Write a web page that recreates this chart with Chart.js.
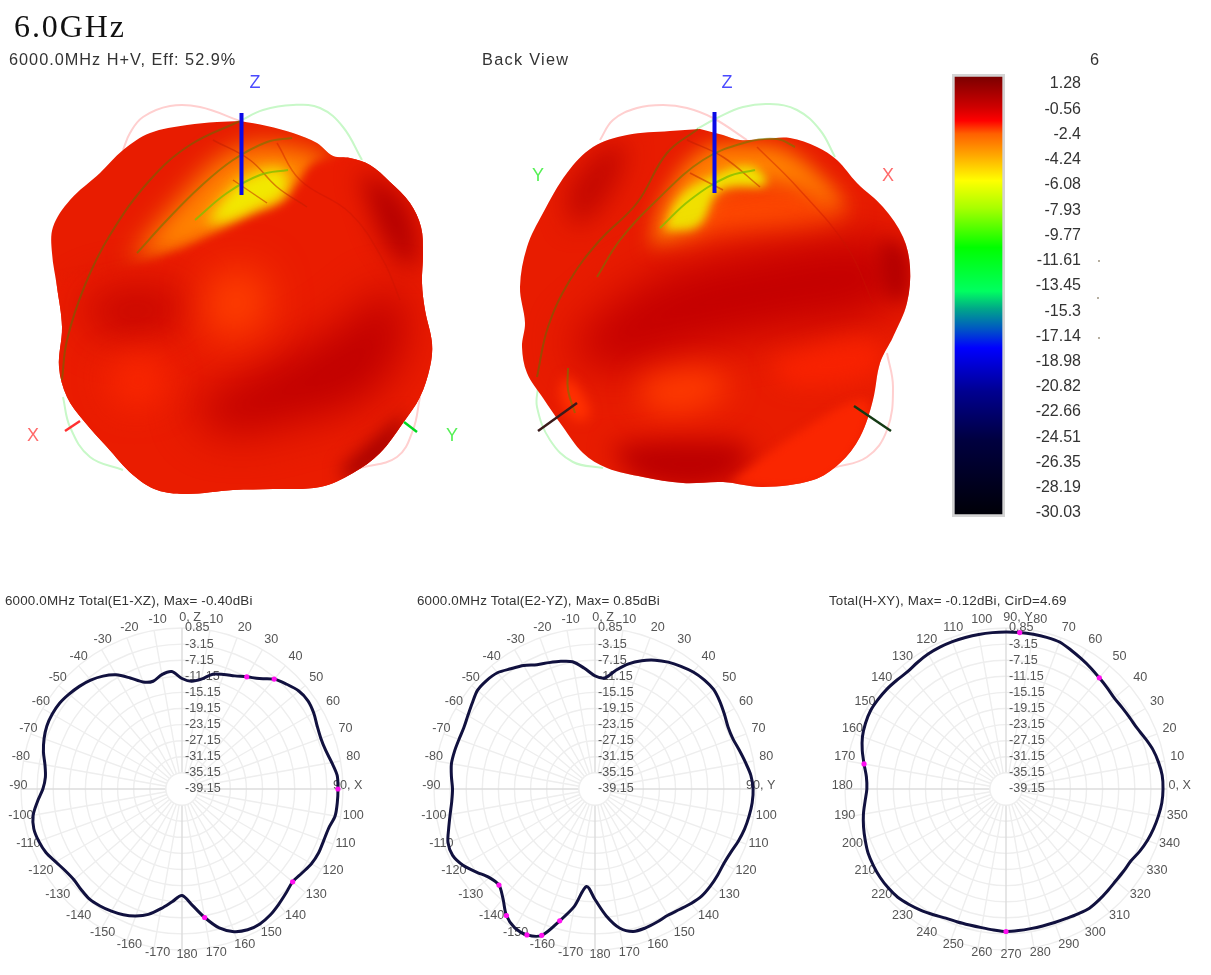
<!DOCTYPE html>
<html><head><meta charset="utf-8">
<script src="https://cdn.jsdelivr.net/npm/chart.js@4"></script>
<style>
html,body{margin:0;padding:0;background:#fff;width:1211px;height:975px;overflow:hidden}
canvas{position:absolute;filter:blur(.4px)}
.t{position:absolute;white-space:pre;font-family:"Liberation Sans",Arial,sans-serif;color:#333;line-height:1;filter:blur(.3px)}
</style></head><body>
<canvas id="view3d" width="1211" height="560" style="left:0;top:0"></canvas>
<canvas id="scale" width="170" height="470" style="left:940px;top:60px"></canvas>
<canvas id="p1" width="400" height="390" style="left:-18px;top:585px"></canvas>
<canvas id="p2" width="400" height="390" style="left:395px;top:585px"></canvas>
<canvas id="p3" width="400" height="390" style="left:806px;top:585px"></canvas>
<div class="t" style="left:14px;top:8px;font:32px 'Liberation Serif',serif;letter-spacing:1.9px;color:#111">6.0GHz</div>
<div class="t" style="left:9px;top:51px;font-size:16.3px;letter-spacing:1px">6000.0MHz H+V, Eff: 52.9%</div>
<div class="t" style="left:482px;top:51px;font-size:16.3px;letter-spacing:1.3px">Back View</div>
<div class="t" style="left:1090px;top:51px;font-size:16.3px">6</div>
<div class="t" style="left:5px;top:594px;font-size:13.4px;letter-spacing:.17px">6000.0MHz Total(E1-XZ), Max= -0.40dBi</div>
<div class="t" style="left:417px;top:594px;font-size:13.4px;letter-spacing:.17px">6000.0MHz Total(E2-YZ), Max= 0.85dBi</div>
<div class="t" style="left:829px;top:594px;font-size:13.4px;letter-spacing:.17px">Total(H-XY), Max= -0.12dBi, CirD=4.69</div>
<script>
// ---------- polar data (dBi, every 5 degrees clockwise from the top of the plot)
const radialLevels=[-39.15,-35.15,-31.15,-27.15,-23.15,-19.15,-15.15,-11.15,-7.15,-3.15,0.85];
const labelsXZ=["0, Z","10","20","30","40","50","60","70","80","90, X","100","110","120","130","140","150","160","170","180","-170","-160","-150","-140","-130","-120","-110","-100","-90","-80","-70","-60","-50","-40","-30","-20","-10"];
const labelsYZ=["0, Z","10","20","30","40","50","60","70","80","90, Y","100","110","120","130","140","150","160","170","180","-170","-160","-150","-140","-130","-120","-110","-100","-90","-80","-70","-60","-50","-40","-30","-20","-10"];
const labelsXY=["90, Y","80","70","60","50","40","30","20","10","0, X","350","340","330","320","310","300","290","280","270","260","250","240","230","220","210","200","190","180","170","160","150","140","130","120","110","100"];
const gainXZ=[-11.69,-12.27,-11.44,-9.63,-8.88,-8.14,-6.98,-5.66,-3.51,-2.35,-1.27,-0.94,-1.36,-2.10,-2.43,-2.18,-1.36,-0.45,-0.40,-0.42,-0.53,-1.44,-1.69,-1.69,-2.02,-2.76,-3.26,-2.60,-1.77,-0.94,-0.45,-0.55,-1.44,-3.42,-6.73,-10.20,-12.69,-11.03,-8.96,-6.90,-5.57,-4.66,-4.09,-3.67,-3.42,-3.75,-4.09,-3.75,-2.93,-1.85,-1.27,-1.03,-1.60,-3.09,-4.58,-5.08,-4.58,-3.51,-2.68,-2.10,-1.93,-2.02,-2.51,-3.09,-3.84,-4.91,-6.40,-8.72,-10.87,-11.44,-10.29,-9.87];
const gainYZ=[-11.03,-11.45,-9.21,-6.98,-5.24,-3.84,-2.76,-1.93,-1.19,-0.78,-0.69,-1.27,-2.02,-2.68,-2.68,-2.02,-1.19,-0.28,0.13,0.05,-0.28,-0.69,-1.27,-1.93,-2.18,-1.93,-1.69,-1.60,-2.02,-2.60,-2.93,-2.68,-2.43,-2.51,-4.09,-7.56,-11.69,-14.84,-9.54,-5.24,-0.45,0.85,0.71,-0.78,-3.59,-5.41,-4.91,-3.18,-1.27,-0.12,-0.28,-1.52,-2.60,-3.42,-3.75,-3.34,-2.93,-3.01,-3.18,-3.18,-2.68,-1.93,-1.03,-1.03,-1.44,-2.68,-3.75,-5.08,-5.74,-6.32,-7.06,-9.05];
const gainXY=[-0.15,-0.13,-0.12,-0.14,-0.28,-1.03,-1.77,-2.43,-3.09,-3.59,-4.00,-3.92,-3.67,-3.26,-2.35,-1.36,-0.69,-0.20,-0.14,-0.28,-0.69,-1.19,-1.77,-2.51,-3.34,-3.51,-3.59,-3.42,-3.18,-3.01,-3.34,-3.67,-3.84,-3.92,-3.92,-3.84,-3.75,-4.00,-4.17,-4.17,-4.00,-3.75,-3.09,-2.35,-1.69,-1.11,-0.94,-0.94,-1.11,-1.36,-1.93,-2.51,-3.18,-4.00,-4.58,-4.33,-3.34,-2.18,-1.19,-0.61,-0.28,-0.36,-0.53,-0.86,-1.11,-0.78,-0.45,-0.28,-0.20,-0.18,-0.15,-0.15];
const markersXZ=[6,8,18,26,34];
const markersYZ=[45,43,41,40,39];
const markersXY=[1,8,36,56];
// ---------- colour scale
const scaleTicks=[1.28,-0.56,-2.4,-4.24,-6.08,-7.93,-9.77,-11.61,-13.45,-15.3,-17.14,-18.98,-20.82,-22.66,-24.51,-26.35,-28.19,-30.03];
const scaleRange=[-30.32,2.01];
// ---------- 3D views: outlines and shading regions, in view units
const frontOutline=[[240,121],[267,126],[293,133],[317,143],[333,156],[350,158],[370,165],[390,182],[410,203],[421,227],[423,253],[422,283],[425,310],[432,343],[430,367],[420,397],[403,423],[380,453],[353,473],[320,487],[273,489],[233,490],[187,494],[157,490],[133,475],[107,447],[83,420],[67,397],[59,367],[62,327],[57,287],[52,253],[53,227],[70,200],[100,173],[123,150],[150,133],[187,125],[217,122],[240,121]];
const backOutline=[[700,129],[723,135],[740,140],[763,139],[790,138],[817,147],[837,160],[857,183],[883,207],[903,237],[910,267],[907,303],[893,337],[880,363],[873,400],[860,437],[840,463],[813,480],[763,487],[723,482],[683,483],[643,477],[607,468],[583,453],[563,427],[543,398],[527,373],[522,347],[525,323],[520,287],[527,247],[543,213],[567,173],[593,147],[627,135],[670,131],[700,129]];
const frontOrange=[[130,262],[175,205],[235,150],[300,148],[330,165],[295,205],[250,225],[195,250]];
const frontYellow=[[205,224],[225,196],[250,174],[285,170],[285,195],[260,209],[230,222]];
const frontLobe=[[338,156],[312,164],[298,184],[284,203],[252,217],[215,234],[175,252],[130,268],[40,300],[40,510],[445,510],[445,150]];
const frontDarkLobe=[[358,170],[400,195],[418,240],[412,268],[385,242],[368,200]];
const frontDarkMid=[[190,402],[250,375],[330,332],[395,290],[405,340],[370,395],[300,420],[220,432]];
const frontDarkLeft=[[80,300],[130,285],[188,297],[172,328],[105,335]];
const frontDarkEdge=[[340,470],[385,430],[405,415],[392,450],[350,480]];
const frontGlowMid=[[208,275],[258,272],[262,325],[210,332]];
const frontGlowLeft=[[105,365],[155,355],[165,395],[120,405]];
const backOrange=[[650,248],[665,197],[703,150],[747,144],[787,150],[830,187],[840,210],[787,186],[720,192],[697,227]];
const backYellow=[[664,230],[680,197],[710,177],[750,166],[766,184],[720,190],[698,226]];
const backOrangeLow=[[704,196],[790,188],[845,205],[835,226],[720,236],[672,246]];
const backDarkBand=[[570,340],[650,280],[760,250],[880,240],[908,270],[880,310],[780,330],[680,350],[600,370]];
const backDarkUpper=[[565,190],[600,150],[625,145],[610,195],[575,225]];
const backDarkRight=[[880,240],[905,250],[905,300],[885,290]];
const backGlowLow=[[640,380],[700,370],[730,385],[690,410],[645,405]];
const backGlowRight=[[770,360],[870,340],[880,370],[790,385]];
const backDarkLow=[[610,445],[680,440],[750,448],[720,485],[640,480]];
const backWedge=[[730,484],[800,432],[865,400],[860,440],[815,484]];
const backGlowPit=[[565,375],[580,390],[590,415],[575,420],[560,395]];
// ---------- 3D views: pattern curves and axes
const fPinkTop=[[123,150],[130,133],[143,117],[170,106],[200,107],[240,121]];
const fGreenTop=[[240,121],[263,110],[293,105],[320,108],[343,127],[362,160]];
const fGreenLow=[[63,397],[70,427],[90,457],[123,470]];
const fPinkLow=[[420,397],[413,430],[397,457],[360,468]];
const fOlive1=[[240,121],[190,145],[150,180],[110,235],[85,285],[67,340],[62,380]];
const fOlive2=[[292,138],[267,142],[233,160],[200,187],[167,220],[137,253]];
const fLime=[[288,170],[260,175],[227,193],[195,220]];
const fRed1=[[213,140],[250,160],[277,187],[307,207]];
const fRed2=[[233,180],[267,203]];
const fRed3=[[277,143],[300,180],[350,213],[383,260],[400,300]];
const fAxisZ=[[241.5,113],[241.5,195]];
const fAxisX=[[65,431],[80,421]];
const fAxisY=[[404,422],[417,432]];
const bPinkTop=[[600,140],[613,120],[637,108],[663,105],[687,108],[713,118],[747,140]];
const bGreenTop=[[697,129],[717,118],[743,107],[770,104],[797,110],[820,130],[835,157]];
const bGreenLow=[[538,387],[537,407],[550,440],[573,462],[603,468]];
const bPinkLow=[[887,353],[893,387],[887,430],[867,457],[833,468]];
const bOlive1=[[698,129],[667,153],[637,203],[600,240],[570,280],[548,327],[537,377]];
const bOlive2=[[795,147],[777,139],[747,142],[703,160],[657,200],[620,240],[597,277]];
const bOlive3=[[568,368],[568,390],[575,413]];
const bLime=[[755,170],[727,177],[690,200],[660,228]];
const bRed1=[[687,140],[723,157],[760,187]];
const bRed2=[[690,173],[723,190]];
const bRed3=[[757,147],[797,187],[847,247],[873,303]];
const bAxisZ=[[714.5,112],[714.5,193]];
const bAxisL=[[538,431],[577,403]];
const bAxisR=[[854,406],[891,431]];
const stray=[[1099,261],[1098,298],[1099,338]];
const axisLetters=[["Z",255,83,"#4a4aff"],["X",33,436,"#ff6a6a"],["Y",452,436,"#55f055"],["Z",727,83,"#4a4aff"],["Y",538,176,"#55f055"],["X",888,176,"#ff6a6a"]];

const pts=a=>a.map(p=>({x:p[0],y:p[1]}));
const curve=(a,color,w,tension)=>({data:pts(a),showLine:true,pointRadius:0,borderColor:color,borderWidth:w,tension:tension??0.4,fill:false});
const shade=(a,surface,color,blur)=>({data:pts(a.concat([a[0]])),showLine:true,pointRadius:0,borderWidth:0,tension:0.4,surface,paint:color,blur});
const solid=(a,color)=>({data:pts(a),showLine:true,pointRadius:0,borderWidth:0,tension:0.35,outline:true,paint:color});

const layers=[
 curve(fPinkTop,"#ffcfcf",2),curve(fGreenTop,"#c8f8c8",2),curve(fGreenLow,"#c8f8c8",2),curve(fPinkLow,"#ffcfcf",2),
 curve(bPinkTop,"#ffcfcf",2),curve(bGreenTop,"#c8f8c8",2),curve(bGreenLow,"#c8f8c8",2),curve(bPinkLow,"#ffcfcf",2),
 Object.assign(solid(frontOutline,"#e81c00"),{id:"front"}),
 shade(frontOrange,"front","#ff8400",13),shade(frontYellow,"front","#f2e800",7),
 shade(frontLobe,"front","#ea1c00",5),
 shade(frontDarkLobe,"front","#b40000",12),shade(frontDarkMid,"front","#c00000",22),shade(frontDarkLeft,"front","#c80600",20),shade(frontDarkEdge,"front","#a40000",9),
 shade(frontGlowMid,"front","#ff4000",20),shade(frontGlowLeft,"front","#f82600",16),
 Object.assign(solid(backOutline,"#e81c00"),{id:"back"}),
 shade(backOrangeLow,"back","#ff4c00",14),shade(backOrange,"back","#ff8000",10),shade(backYellow,"back","#f0e000",5),
 shade(backDarkBand,"back","#c40000",22),shade(backDarkUpper,"back","#c40800",13),shade(backDarkRight,"back","#b40000",9),
 shade(backGlowLow,"back","#ff3c00",15),shade(backGlowRight,"back","#f82200",11),shade(backDarkLow,"back","#bc0000",12),shade(backWedge,"back","#fa2600",5),shade(backGlowPit,"back","#ff3000",6),
 curve(fRed1,"rgba(190,30,0,.5)",1.5),curve(fRed2,"rgba(190,30,0,.5)",1.5),curve(fRed3,"rgba(200,20,0,.4)",1.5),
 curve(fOlive1,"rgba(95,110,0,.55)",2),curve(fOlive2,"rgba(110,120,0,.6)",2),curve(fLime,"rgba(130,190,0,.8)",2),
 curve(bRed1,"rgba(190,30,0,.5)",1.5),curve(bRed2,"rgba(190,30,0,.5)",1.5),curve(bRed3,"rgba(200,20,0,.4)",1.5),
 curve(bOlive1,"rgba(95,110,0,.55)",2),curve(bOlive2,"rgba(110,120,0,.6)",2),curve(bOlive3,"rgba(110,120,0,.6)",2),curve(bLime,"rgba(130,190,0,.8)",2),
 curve(fAxisZ,"#0a0ae6",4,0),curve(fAxisX,"#ff3030",2.5,0),curve(fAxisY,"#00d820",2.5,0),
 curve(bAxisZ,"#0a0ae6",4,0),curve(bAxisL,"#3a1a1a",2.5,0),curve(bAxisR,"#143a14",2.5,0),
 {data:pts(stray),showLine:false,pointStyle:"rect",pointRadius:1.3,pointBackgroundColor:"#b0a898",pointBorderWidth:0}
];
layers.forEach((d,i)=>d.order=layers.length-i);

function tracePath(chart,idx){
  const line=chart.getDatasetMeta(idx).dataset;
  line.updateControlPoints(chart.chartArea);
  chart.ctx.beginPath();line.path(chart.ctx);chart.ctx.closePath();
}
const surfacePlugin={id:"surface",
  beforeDatasetDraw(chart,args){
    const d=chart.data.datasets[args.index],ctx=chart.ctx;
    if(d.outline){ctx.save();tracePath(chart,args.index);ctx.fillStyle=d.paint;ctx.fill();ctx.restore();return false;}
    if(d.surface){
      const host=chart.data.datasets.findIndex(x=>x.id===d.surface);
      ctx.save();tracePath(chart,host);ctx.clip();
      ctx.filter="blur("+d.blur+"px)";
      tracePath(chart,args.index);ctx.fillStyle=d.paint;ctx.fill();ctx.restore();return false;
    }
  },
  afterDraw(chart){
    const ctx=chart.ctx,sx=chart.scales.x,sy=chart.scales.y;
    ctx.save();ctx.font="18px 'Liberation Sans',sans-serif";ctx.textAlign="center";ctx.textBaseline="middle";
    axisLetters.forEach(l=>{ctx.fillStyle=l[3];ctx.fillText(l[0],sx.getPixelForValue(l[1]),sy.getPixelForValue(l[2]));});
    ctx.restore();
  }
};
new Chart(document.getElementById("view3d"),{type:"scatter",data:{datasets:layers},plugins:[surfacePlugin],
 options:{responsive:false,animation:false,layout:{padding:0,autoPadding:false},
  plugins:{legend:{display:false},tooltip:{enabled:false}},
  scales:{x:{type:"linear",min:0,max:1211,display:false},y:{type:"linear",min:0,max:560,reverse:true,display:false}}}});

// ---------- colour bar
const ramp=[[0,"#7c0000"],[.07,"#d00000"],[.1,"#ff0000"],[.13,"#ff6000"],[.185,"#ffb000"],[.237,"#ffff00"],[.3,"#a8ff00"],[.39,"#00ff00"],[.49,"#00ff60"],[.53,"#00a888"],[.58,"#0050c8"],[.62,"#0000ff"],[.72,"#000090"],[.83,"#000040"],[1,"#000008"]];
new Chart(document.getElementById("scale"),{type:"bar",
 plugins:[{id:"wideTicks",beforeInit(c){c.ctx.letterSpacing="0.9px";}}],
 data:{labels:["scale"],datasets:[{data:[scaleRange],barPercentage:1,categoryPercentage:1,borderColor:"#d4d4d4",borderWidth:3,borderSkipped:false,
  backgroundColor(c){const a=c.chart.chartArea;if(!a)return "#000";const g=c.chart.ctx.createLinearGradient(0,a.top+3,0,a.bottom-3);ramp.forEach(s=>g.addColorStop(s[0],s[1]));return g;}}]},
 options:{responsive:false,animation:false,layout:{padding:{left:12,top:14,bottom:13,right:29}},
  plugins:{legend:{display:false},tooltip:{enabled:false}},
  scales:{x:{display:false},
   y:{position:"right",min:scaleRange[0],max:scaleRange[1],border:{display:false},grid:{display:false,drawTicks:false},
    afterBuildTicks:s=>{s.ticks=scaleTicks.map(v=>({value:v}));},
    afterFit:s=>{s.width=76;s.paddingTop=0;s.paddingBottom=0;},
    ticks:{autoSkip:false,padding:25,crossAlign:"far",color:"#333",font:{family:"'Liberation Sans',sans-serif",size:16},callback:v=>String(v)}}}}});

// ---------- polar plots
const everyFive=l=>l.flatMap(t=>[t,""]);
const polarLabelPlugin={id:"polarLabels",
 beforeDatasetsDraw(chart,a,o){
  const ctx=chart.ctx,r=chart.scales.r;
  ctx.save();
  ctx.beginPath();ctx.arc(r.xCenter,r.yCenter,r.getDistanceFromCenterForValue(-35.15),0,7);
  ctx.fillStyle="#fff";ctx.fill();ctx.strokeStyle="#eeeeee";ctx.lineWidth=1.4;ctx.stroke();
  ctx.font="12.6px 'Liberation Sans',sans-serif";ctx.fillStyle="#555";ctx.textBaseline="middle";
  ctx.textAlign="center";
  chart.data.labels.forEach((t,i)=>{
    if(!t)return;
    const p=r.getPointPosition(i,168.7);
    ctx.fillText(t,p.x+5+(o.shift[t]||0),p.y-3);
  });
  ctx.textAlign="left";
  radialLevels.forEach(v=>ctx.fillText(v.toFixed(2),r.xCenter+3,r.yCenter-r.getDistanceFromCenterForValue(v)));
  ctx.restore();
 }};
function polar(id,labels,gain,markers,shift){
 new Chart(document.getElementById(id),{type:"radar",plugins:[polarLabelPlugin],
  data:{labels:everyFive(labels),datasets:[{data:gain,borderColor:"#11113f",borderWidth:3,fill:false,tension:0.3,
    pointRadius:gain.map((v,i)=>markers.includes(i)?2.6:0),pointBackgroundColor:"#ff10f0",pointBorderWidth:0}]},
  options:{responsive:false,animation:false,layout:{padding:{left:39,right:39,top:43,bottom:25}},
   plugins:{legend:{display:false},tooltip:{enabled:false},polarLabels:{shift}},
   scales:{r:{min:-39.15,max:0.85,
     afterBuildTicks:s=>{s.ticks=radialLevels.map(v=>({value:v}));},
     ticks:{display:false},pointLabels:{display:false},
     grid:{circular:true,color:"#eeeeee",lineWidth:1.4},
     angleLines:{display:true,lineWidth:1.4,color:c=>c.index%2?null:(c.index%18===0?"#dcdcdc":"#eeeeee")}}}}});
}
polar("p1",labelsXZ,gainXZ,markersXZ,{"90, X":-8,"0, Z":3});
polar("p2",labelsYZ,gainYZ,markersYZ,{"90, Y":-8,"0, Z":3});
polar("p3",labelsXY,gainXY,markersXY,{"90, Y":7,"0, X":0});
</script>
</body></html>
